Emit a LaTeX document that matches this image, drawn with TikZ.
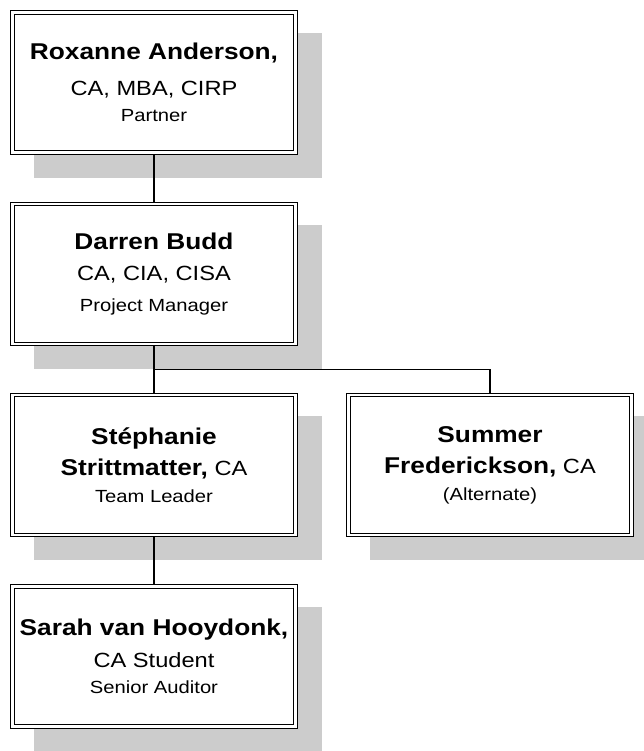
\documentclass[tikz,border=0pt]{standalone}
\usepackage{fontspec}
\setmainfont[FakeStretch=1.15]{Liberation Sans}
\usetikzlibrary{backgrounds,calc}

\tikzset{
  person/.style={draw, double, line width=0.7pt, double distance=1.4pt,
    fill=white, minimum width=5.66cm, minimum height=2.8cm,
    outer sep=1.4pt, inner sep=2pt, align=center,
    font=\fontsize{11.7}{15}\selectfont},
  link/.style={line width=0.7pt},
  boxshadow/.style={fill=black!20}
}
\newcommand\who[1]{{\fontsize{13}{15}\selectfont\bfseries #1}}
\newcommand\role[1]{{\fontsize{10}{15}\selectfont #1}}

\begin{document}
\begin{tikzpicture}[x=0.02cm, y=-0.02cm]
      \useasboundingbox (0,0) rectangle (644,751);
      \clip (0,0) rectangle (644,751);

      % The people
      \node [person] (rox) at (154,82.5)
        {\who{Roxanne Anderson,}\\[5pt] CA, MBA, CIRP\\ \role{Partner}};
      \node [person] (darren) at (154,274)
        {\who{Darren Budd}\\[3pt] CA, CIA, CISA\\[2.5pt] \role{Project Manager}};
      \node [person] (steph) at (154,465)
        {\who{Stéphanie}\\[3pt] \who{Strittmatter,} CA\\ \role{Team Leader}};
      \node [person] (summer) at (490,465)
        {\who{Summer}\\[3pt] \who{Frederickson,} CA\\ \role{(Alternate)}};
      \node [person] (sarah) at (154,656.5)
        {\who{Sarah van Hooydonk,}\\[3pt] CA Student\\ \role{Senior Auditor}};

      % Grey shadows behind every box
      \begin{scope}[on background layer]
        \foreach \b in {rox, darren, steph, summer, sarah} {
          \fill [boxshadow] ([shift={(24,23)}]\b.north west)
            rectangle ([shift={(24,23)}]\b.south east);
        }
      \end{scope}

      % Reporting lines
      \coordinate (split) at ($(darren.south)!0.5!(steph.north)$);
      \draw [link] (rox.south) -- (darren.north);
      \draw [link] (darren.south) -- (steph.north);
      \draw [link] (split) -| (summer.north);
      \draw [link] (steph.south) -- (sarah.north);

    \end{tikzpicture}
\end{document}
